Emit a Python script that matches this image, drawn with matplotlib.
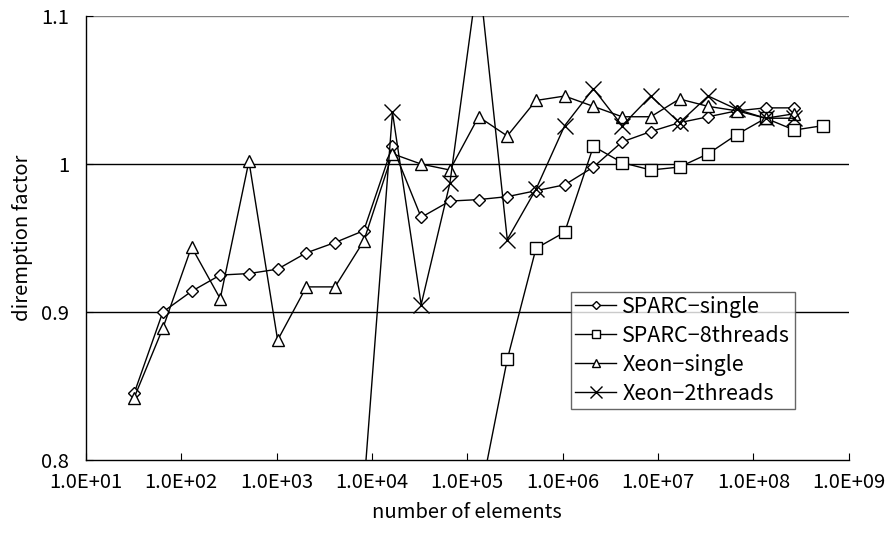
import numpy as np
import matplotlib.pyplot as plt
from matplotlib.ticker import FixedLocator, FuncFormatter

plt.rcParams['font.family'] = ['Noto Sans CJK JP', 'DejaVu Sans']

# exponents of 2 for the number of elements
sparc_single_exp = list(range(5, 29))
sparc_single = [0.845, 0.900, 0.914, 0.925, 0.926, 0.929, 0.940, 0.947, 0.955, 1.012,
                0.964, 0.975, 0.976, 0.978, 0.982, 0.986, 0.998, 1.015, 1.022, 1.028,
                1.032, 1.036, 1.038, 1.038]

sparc_8_exp = list(range(17, 30))
sparc_8 = [0.770, 0.868, 0.943, 0.954, 1.012, 1.001, 0.996, 0.998, 1.007, 1.020,
           1.031, 1.023, 1.026]

xeon_single_exp = list(range(5, 29))
xeon_single = [0.842, 0.889, 0.944, 0.909, 1.002, 0.881, 0.917, 0.917, 0.948, 1.007,
               1.000, 0.996, 1.032, 1.019, 1.043, 1.046, 1.039, 1.032, 1.032, 1.044,
               1.039, 1.036, 1.031, 1.034]

xeon_2_exp = list(range(13, 29))
xeon_2 = [0.780, 1.035, 0.905, 0.987, 1.130, 0.949, 0.983, 1.026, 1.051, 1.026,
          1.046, 1.028, 1.046, 1.037, 1.031, 1.031]

series = [
    ("SPARC-single", sparc_single_exp, sparc_single, "D", 6),
    ("SPARC-8threads", sparc_8_exp, sparc_8, "s", 8),
    ("Xeon-single", xeon_single_exp, xeon_single, "^", 8),
    ("Xeon-2threads", xeon_2_exp, xeon_2, "x", 11),
]

fs = 14.5

fig = plt.figure(figsize=(8.86, 5.38), dpi=100)
ax = fig.add_axes([0.097, 0.145, 0.861, 0.825])

for y in [0.9, 1.0, 1.1]:
    ax.axhline(y, color="black" if y < 1.05 else "#808080", lw=1, zorder=1)

for name, exps, vals, mk, ms in series:
    x = 2.0 ** np.array(exps)
    ax.plot(x, vals, color="black", lw=1, marker=mk, markersize=ms,
            markerfacecolor="white" if mk != "x" else "black",
            markeredgecolor="black", markeredgewidth=1,
            label=name.replace("-", "\u2212"), zorder=3)

ax.set_xscale("log")
ax.set_xlim(10, 1e9)
ax.set_ylim(0.8, 1.1)
ax.xaxis.set_major_locator(FixedLocator([10.0 ** k for k in range(1, 10)]))
ax.xaxis.set_minor_locator(FixedLocator([]))
ax.xaxis.set_major_formatter(FuncFormatter(lambda v, p: "1.0E+%02d" % round(np.log10(v))))
ax.set_yticks([0.8, 0.9, 1.0, 1.1])
ax.set_yticklabels(["0.8", "0.9", "1", "1.1"])
ax.tick_params(axis="both", direction="in", length=5, labelsize=fs, color="black")
ax.tick_params(axis="x", pad=9)
ax.tick_params(axis="y", pad=12)

for s in ["top", "right"]:
    ax.spines[s].set_visible(False)
for s in ["left", "bottom"]:
    ax.spines[s].set_color("black")
    ax.spines[s].set_linewidth(1)

ax.set_xlabel("number of elements", fontsize=fs, labelpad=6)
ax.set_ylabel("diremption factor", fontsize=fs, labelpad=6)

leg = ax.legend(loc="lower right", bbox_to_anchor=(0.929, 0.115), fontsize=15.5,
                frameon=True, fancybox=False, edgecolor="#404040", markerscale=0.75,
                handlelength=1.9, handletextpad=0.3, borderpad=0.2, labelspacing=0.32,
                borderaxespad=0)
leg.get_frame().set_linewidth(1)

fig.savefig("out.png", dpi=100)
